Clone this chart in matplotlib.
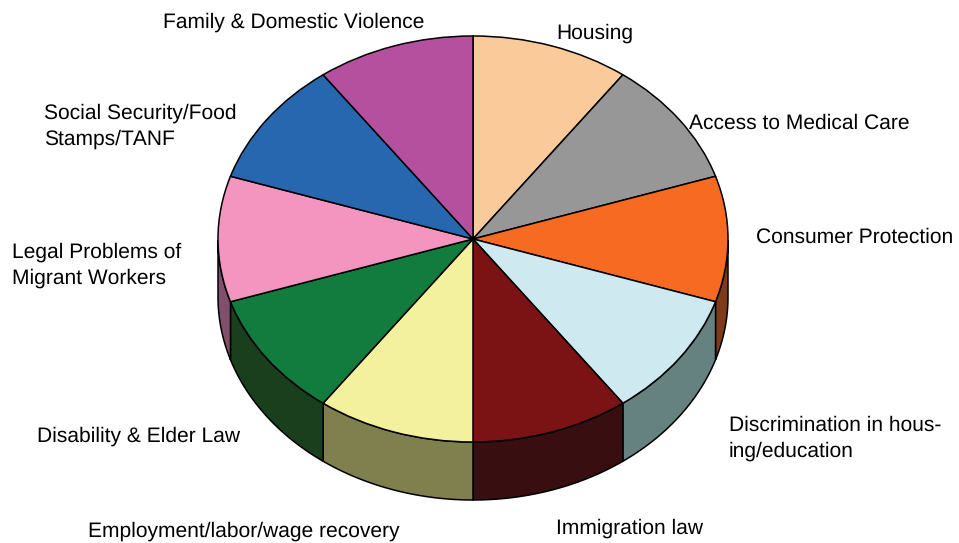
import numpy as np
import matplotlib
matplotlib.use("Agg")
import matplotlib.pyplot as plt

plt.rcParams['font.family'] = ['Liberation Sans', 'DejaVu Sans']
plt.rcParams['text.hinting'] = 'none'
plt.rcParams['text.hinting_factor'] = 1

labels = ["Housing", "Access to Medical Care", "Consumer Protection",
          "Discrimination in hous-\ning/education", "Immigration law",
          "Employment/labor/wage recovery", "Disability & Elder Law",
          "Legal Problems of\nMigrant Workers", "Social Security/Food\nStamps/TANF",
          "Family & Domestic Violence"]
values = [10, 10, 10, 10, 10, 10, 10, 10, 10, 10]
top_colors = ["#FACA9A", "#979797", "#F66A22", "#CFE9F1", "#7B1213",
              "#F4F19E", "#127C3E", "#F395BE", "#2767B0", "#B5509F"]
side_colors = ["#FACA9A", "#979797", "#7F3A1A", "#658280", "#380E10",
               "#80804E", "#1A3F1C", "#7F4F6C", "#2767B0", "#B5509F"]
label_px = [(556, 33), (689, 123), (756, 237), (729, 438), (556, 528),
            (88, 531), (37, 436), (12, 265), (44, 126), (163, 22)]

W, H = 959, 543
CX, CY, RX, RY, DEPTH = 473, 239, 255, 203, 58

fig = plt.figure(figsize=(W / 100, H / 100), dpi=100)
ax = fig.add_axes([0, 0, 1, 1])

# walls, shifted below the top face
dz = DEPTH / RY
edges = np.cumsum([0] + values) / sum(values) * 2 * np.pi
for a0, a1, c in zip(edges[:-1], edges[1:], side_colors):
    t = np.linspace(a0, a1, 60)  # clockwise from the top
    x, y = np.sin(t), np.cos(t)
    mask = (t > np.pi / 2) & (t < 3 * np.pi / 2)
    if not mask.any():
        continue
    xs, ys = x[mask], y[mask]
    ax.fill(np.r_[xs, xs[::-1]], np.r_[ys, ys[::-1] - dz], facecolor=c,
            edgecolor='black', linewidth=1.1, zorder=1)

ax.pie(values, colors=top_colors, startangle=90, counterclock=False, radius=1,
       wedgeprops=dict(edgecolor='black', linewidth=1.1, zorder=2))
ax.set_aspect('auto')
ax.set_xlim(-CX / RX, (W - CX) / RX)
ax.set_ylim((CY - H) / RY, CY / RY)
ax.axis('off')

for s, (px, py) in zip(labels, label_px):
    ax.text((px - CX) / RX, (CY - py) / RY, s, fontsize=15.45, color='black',
            ha='left', va='center', linespacing=1.42)

fig.savefig("out.png", dpi=100)
